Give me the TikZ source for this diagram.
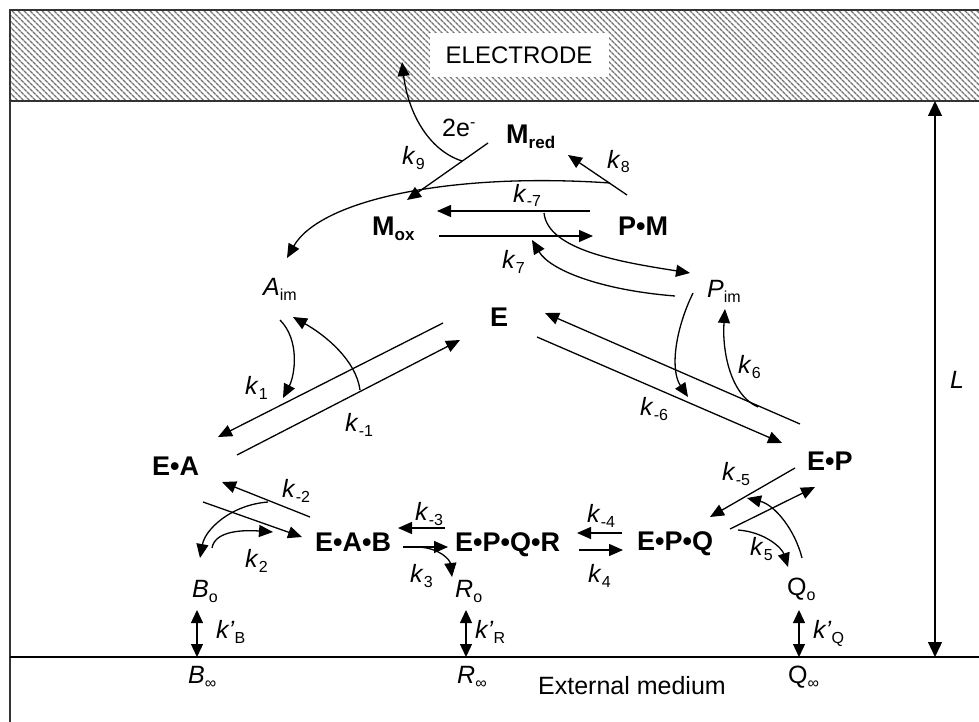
\documentclass[tikz,border=0pt]{standalone}
\usepackage{fontspec}
\setmainfont{Liberation Sans}
\usetikzlibrary{arrows.meta,patterns.meta}
\newcommand{\fs}[1]{\fontsize{#1}{#1}\selectfont}
\newcommand{\sbx}[1]{\raisebox{-5pt}{\fs{16}\mdseries\upshape #1}}
\newcommand{\bsbx}[1]{\raisebox{-5pt}{\fs{17}\bfseries #1}}
\newcommand{\kl}[1]{\textit{k}\sbx{#1}}
\newcommand{\kp}[1]{\textit{k’}\sbx{#1}}
\tikzset{
  ln/.style={line width=1.3pt},
  frame/.style={line width=1.6pt,black!80},
  ar/.style={ln,-{Triangle[length=14pt,width=12pt]}},
  dar/.style={ln,{Triangle[length=13pt,width=12pt]}-{Triangle[length=13pt,width=12pt]}},
  lbl/.style={anchor=base west,inner sep=0pt,font=\fs{25}},
  sp/.style={anchor=base west,inner sep=0pt,font=\fs{27}\bfseries},
}
\begin{document}
\begin{tikzpicture}[x=1pt,y=-1pt]
\useasboundingbox (0,0) rectangle (979,722);
\fill[white] (0,0) rectangle (979,722);
% electrode
\fill[pattern={Lines[angle=-45,distance=4pt,line width=1.5pt]},pattern color=black!55] (10,10) rectangle (979,101);
\draw[frame] (10,722) -- (10,10) -- (979,10);
\draw[frame] (10,101) -- (979,101);
\draw[ln] (10,657) -- (979,657);
\node[fill=white,minimum width=179pt,minimum height=44pt,inner sep=0pt,font=\fs{24}] (electrode) at (519,55) {ELECTRODE};

% species
\node[sp] (mred) at (506,144) {M\bsbx{red}};
\node[sp] (mox) at (372,235) {M\bsbx{ox}};
\node[sp] (pm) at (618,235) {P•M};
\node[lbl] (aim) at (263,295) {\textit{A}\sbx{im}};
\node[lbl] (pim) at (707,297) {\textit{P}\sbx{im}};
\node[sp] (e) at (490,326) {E};
\node[sp] (ea) at (152,475) {E•A};
\node[sp] (ep) at (807,470) {E•P};
\node[sp] (eab) at (315,551) {E•A•B};
\node[sp] (epqr) at (455,551) {E•P•Q•R};
\node[sp] (epq) at (637,550) {E•P•Q};
\node[lbl] (bo) at (192,597) {\textit{B}\sbx{o}};
\node[lbl] (ro) at (455,597) {\textit{R}\sbx{o}};
\node[lbl] (qo) at (787,595) {Q\sbx{o}};
\node[lbl] (binf) at (188,683) {\textit{B}\sbx{∞}};
\node[lbl] (rinf) at (457,683) {\textit{R}\sbx{∞}};
\node[lbl] (qinf) at (788,683) {Q\sbx{∞}};
\node[lbl] (ext) at (538,694) {External medium};
\node[lbl] (lenL) at (950,388) {\textit{L}};
\node[lbl] (twoe) at (442,137) {2e\raisebox{9pt}{\fs{16}-}};

% rate constants
\node[lbl] (k9) at (402,165) {\kl{9}};
\node[lbl] (k8) at (607,168) {\kl{8}};
\node[lbl] (km7) at (513,202) {\kl{-7}};
\node[lbl] (k7) at (502,268) {\kl{7}};
\node[lbl] (k1) at (245,394) {\kl{1}};
\node[lbl] (km1) at (345,431) {\kl{-1}};
\node[lbl] (k6) at (738,373) {\kl{6}};
\node[lbl] (km6) at (640,415) {\kl{-6}};
\node[lbl] (km5) at (722,480) {\kl{-5}};
\node[lbl] (k5) at (750,555) {\kl{5}};
\node[lbl] (km4) at (587,522) {\kl{-4}};
\node[lbl] (k4) at (588,582) {\kl{4}};
\node[lbl] (km3) at (415,520) {\kl{-3}};
\node[lbl] (k3) at (410,582) {\kl{3}};
\node[lbl] (km2) at (282,497) {\kl{-2}};
\node[lbl] (k2) at (245,567) {\kl{2}};
\node[lbl] (kB) at (216,638) {\kp{B}};
\node[lbl] (kR) at (475,638) {\kp{R}};
\node[lbl] (kQ) at (813,638) {\kp{Q}};

% connector end points
\coordinate (k9a) at (488,143);   \coordinate (k9b) at (407,200);
\coordinate (ea1) at (462,161);   \coordinate (ea2) at (402,62);
\coordinate (k8a) at (627,195);   \coordinate (k8b) at (568,155);
\coordinate (lc1) at (610,183);   \coordinate (lc2) at (287,258);
\coordinate (m7a) at (590,211);   \coordinate (m7b) at (437,211);
\coordinate (p7a) at (439,236);   \coordinate (p7b) at (593,236);
\coordinate (c7a) at (544,213);   \coordinate (c7b) at (690,273);
\coordinate (d7a) at (675,296);   \coordinate (d7b) at (532,240);
\coordinate (u1a) at (443,323);   \coordinate (u1b) at (218,437);
\coordinate (l1a) at (237,455);   \coordinate (l1b) at (460,340);
\coordinate (c1a) at (280,320);   \coordinate (c1b) at (283,398);
\coordinate (d1a) at (360,390);   \coordinate (d1b) at (293,317);
\coordinate (l6a) at (537,337);   \coordinate (l6b) at (782,443);
\coordinate (u6a) at (800,424);   \coordinate (u6b) at (545,313);
\coordinate (c6a) at (693,293);   \coordinate (c6b) at (688,397);
\coordinate (d6a) at (758,407);   \coordinate (d6b) at (725,309);
\coordinate (m5a) at (795,468);   \coordinate (m5b) at (710,517);
\coordinate (p5a) at (730,529);   \coordinate (p5b) at (815,487);
\coordinate (c5a) at (802,558);   \coordinate (c5b) at (747,498);
\coordinate (d5a) at (738,530);   \coordinate (d5b) at (788,567);
\coordinate (m4a) at (622,533);   \coordinate (m4b) at (577,533);
\coordinate (p4a) at (579,550);   \coordinate (p4b) at (623,550);
\coordinate (m3a) at (445,528);   \coordinate (m3b) at (398,528);
\coordinate (p3a) at (403,547);   \coordinate (p3b) at (448,547);
\coordinate (c3a) at (418,547);   \coordinate (c3b) at (452,577);
\coordinate (m2a) at (310,517);   \coordinate (m2b) at (222,482);
\coordinate (p2a) at (203,502);   \coordinate (p2b) at (302,537);
\coordinate (c2a) at (268,502);   \coordinate (c2b) at (200,558);
\coordinate (d2a) at (212,548);   \coordinate (d2b) at (273,532);
\coordinate (bA) at (197,610);    \coordinate (bB) at (197,657);
\coordinate (rA) at (466,610);    \coordinate (rB) at (466,657);
\coordinate (qA) at (799,610);    \coordinate (qB) at (799,657);
\coordinate (Ltop) at (935,101);  \coordinate (Lbot) at (935,657);

% connectors
\draw[ar] (k9a) -- (k9b);
\draw[ar] (ea1) .. controls (428,150) and (408,112) .. (ea2);
\draw[ar] (k8a) -- (k8b);
\draw[ar] (lc1) .. controls (450,172) and (320,200) .. (lc2);
\draw[ar] (m7a) -- (m7b);
\draw[ar] (p7a) -- (p7b);
\draw[ar] (c7a) .. controls (548,250) and (620,262) .. (c7b);
\draw[ar] (d7a) .. controls (600,290) and (550,270) .. (d7b);
\draw[ar] (u1a) -- (u1b);
\draw[ar] (l1a) -- (l1b);
\draw[ar] (c1a) .. controls (300,340) and (295,375) .. (c1b);
\draw[ar] (d1a) .. controls (356,360) and (325,335) .. (d1b);
\draw[ar] (l6a) -- (l6b);
\draw[ar] (u6a) -- (u6b);
\draw[ar] (c6a) .. controls (675,330) and (670,370) .. (c6b);
\draw[ar] (d6a) .. controls (730,395) and (722,350) .. (d6b);
\draw[ar] (m5a) -- (m5b);
\draw[ar] (p5a) -- (p5b);
\draw[ar] (c5a) .. controls (795,530) and (775,505) .. (c5b);
\draw[ar] (d5a) .. controls (765,532) and (782,548) .. (d5b);
\draw[ar] (m4a) -- (m4b);
\draw[ar] (p4a) -- (p4b);
\draw[ar] (m3a) -- (m3b);
\draw[ar] (p3a) -- (p3b);
\draw[ar] (c3a) .. controls (440,548) and (450,560) .. (c3b);
\draw[ar] (m2a) -- (m2b);
\draw[ar] (p2a) -- (p2b);
\draw[ar] (c2a) .. controls (230,505) and (205,530) .. (c2b);
\draw[ar] (d2a) .. controls (215,530) and (245,530) .. (d2b);
\draw[dar] (bA) -- (bB);
\draw[dar] (rA) -- (rB);
\draw[dar] (qA) -- (qB);
\draw[ln,{Triangle[length=15pt,width=14pt]}-{Triangle[length=15pt,width=14pt]}] (Ltop) -- (Lbot);
\end{tikzpicture}
\end{document}
